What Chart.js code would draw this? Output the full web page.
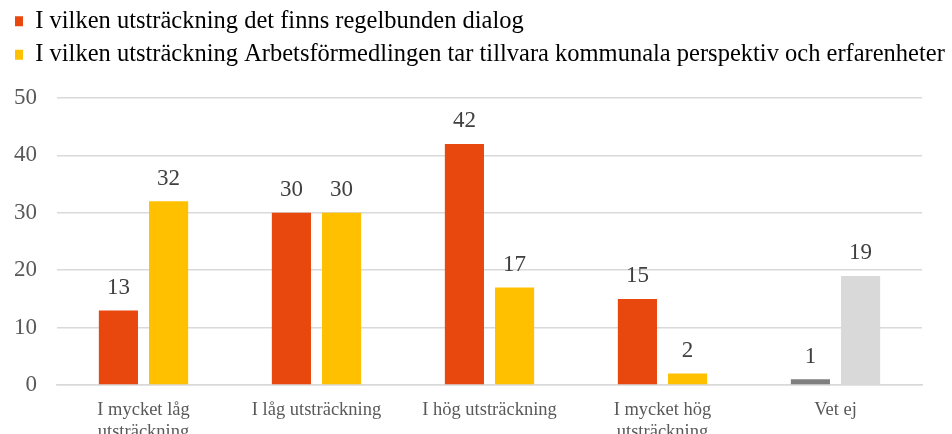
<!DOCTYPE html>
<html>
<head>
<meta charset="utf-8">
<script src="https://cdn.jsdelivr.net/npm/chart.js@4/dist/chart.umd.min.js"></script>
<style>
  html, body { margin: 0; padding: 0; background: #fff; }
  #wrap { width: 952px; height: 434px; }
</style>
</head>
<body>
<div id="wrap"><canvas id="chart"></canvas></div>
<script>
// kategorier och serier
const categories = [
  ["I mycket låg", "utsträckning"],
  "I låg utsträckning",
  "I hög utsträckning",
  ["I mycket hög", "utsträckning"],
  "Vet ej"
];
const seriesNames = [
  "I vilken utsträckning det finns regelbunden dialog",
  "I vilken utsträckning Arbetsförmedlingen tar tillvara kommunala perspektiv och erfarenheter"
];
const dialogValues = [13, 30, 42, 15, 1];
const perspektivValues = [32, 30, 17, 2, 19];
const yTicks = [0, 10, 20, 30, 40, 50];

// "Vet ej" har gråa staplar
const dialogColors = ["#E8470E", "#E8470E", "#E8470E", "#E8470E", "#7F7F7F"];
const perspektivColors = ["#FFC000", "#FFC000", "#FFC000", "#FFC000", "#D9D9D9"];

const serif = "'Liberation Serif', 'Times New Roman', serif";

// etiketter ovanför staplarna
const valueLabels = {
  id: "valueLabels",
  afterDatasetsDraw(chart) {
    const ctx = chart.ctx;
    ctx.save();
    ctx.font = "23px " + serif;
    ctx.fillStyle = "#404040";
    ctx.textAlign = "center";
    ctx.textBaseline = "bottom";
    chart.data.datasets.forEach((ds, i) => {
      chart.getDatasetMeta(i).data.forEach((bar, j) => {
        ctx.fillText(ds.data[j], bar.x, bar.y - 11);
      });
    });
    ctx.restore();
  }
};

// lite extra luft under förklaringen, och flytta den lite åt höger
const legendGap = {
  id: "legendGap",
  beforeInit(chart) {
    const fit = chart.legend.fit;
    chart.legend.fit = function () {
      fit.bind(chart.legend)();
      this.height += 21;
    };
  },
  afterLayout(chart) {
    chart.legend.left += 12;
    chart.legend.right += 12;
  }
};

new Chart(document.getElementById("chart"), {
  type: "bar",
  data: {
    labels: categories,
    datasets: [
      {
        label: seriesNames[0],
        data: dialogValues,
        backgroundColor: dialogColors,
        categoryPercentage: 0.58,
        barPercentage: 0.78
      },
      {
        label: seriesNames[1],
        data: perspektivValues,
        backgroundColor: perspektivColors,
        categoryPercentage: 0.58,
        barPercentage: 0.78
      }
    ]
  },
  options: {
    responsive: true,
    maintainAspectRatio: false,
    animation: false,
    layout: { padding: { left: -6, right: 0, top: 0, bottom: 0 } },
    plugins: {
      legend: {
        position: "top",
        align: "start",
        labels: {
          color: "#595959",
          font: { family: serif, size: 24.5 },
          boxWidth: 8,
          boxHeight: 10,
          padding: 9,
          generateLabels(chart) {
            return chart.data.datasets.map((ds, i) => ({
              text: ds.label,
              fillStyle: ds.backgroundColor[0],
              strokeStyle: ds.backgroundColor[0],
              lineWidth: 0,
              datasetIndex: i
            }));
          }
        }
      },
      tooltip: { enabled: false }
    },
    scales: {
      x: {
        grid: { display: false },
        border: { color: "#D9D9D9", width: 1.5 },
        ticks: {
          color: "#595959",
          font: { family: serif, size: 18.5 },
          maxRotation: 0,
          autoSkip: false,
          padding: 6
        },
        afterFit(scale) { scale.height = 49; }
      },
      y: {
        min: 0,
        max: 50,
        afterBuildTicks(scale) {
          scale.ticks = yTicks.map(v => ({ value: v }));
        },
        grid: { color: "#D9D9D9", lineWidth: 1.5, drawTicks: false },
        border: { display: false },
        ticks: {
          color: "#595959",
          font: { family: serif, size: 23 },
          padding: 20
        }
      },
      // tom axel till höger, bara för marginalen
      yRight: {
        position: "right",
        display: true,
        grid: { display: false },
        border: { display: false },
        ticks: { display: false },
        afterFit(scale) { scale.width = 30; }
      }
    }
  },
  plugins: [valueLabels, legendGap]
});
</script>
</body>
</html>
